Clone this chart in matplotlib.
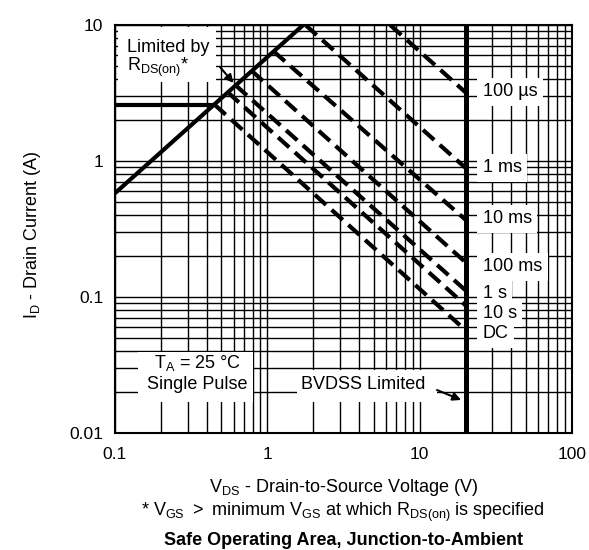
import matplotlib
matplotlib.use("Agg")
import matplotlib.pyplot as plt
from matplotlib.patches import Rectangle
from matplotlib.ticker import LogLocator, FixedLocator, FixedFormatter, NullFormatter

plt.rcParams['font.family'] = ['Liberation Sans', 'DejaVu Sans']
plt.rcParams['mathtext.default'] = 'regular'

# limit lines
rds_v = [0.1, 1.72]          # R_DS(on) limit
rds_i = [0.58, 10.0]
cur_v = [0.1, 0.45]          # package current limit
cur_i = [2.6, 2.6]
bvdss_v = 20.0               # BVDSS limit

# pulse curves: start point and current at BVDSS
pulse_labels = ["100 µs", "1 ms", "10 ms", "100 ms", "1 s", "10 s", "DC"]
pulse_v0 = [6.4, 1.78, 1.1, 0.79, 0.62, 0.55, 0.45]
pulse_i0 = [10.0, 10.0, 6.4, 4.6, 3.6, 3.2, 2.6]
pulse_i1 = [3.2, 0.89, 0.37, 0.18, 0.112, 0.087, 0.057]
label_y = [0.836, 0.650, 0.525, 0.407, 0.343, 0.294, 0.243]

x_ticks = [0.1, 1, 10, 100]
x_tick_labels = ["0.1", "1", "10", "100"]
y_ticks = [0.01, 0.1, 1, 10]
y_tick_labels = ["0.01", "0.1", "1", "10"]

fig = plt.figure(figsize=(5.89, 5.5), dpi=100)
ax = fig.add_axes([0.1952, 0.2127, 0.776, 0.7418])
ax.set_xscale("log")
ax.set_yscale("log")
ax.set_xlim(0.1, 100)
ax.set_ylim(0.01, 10)

ax.xaxis.set_major_locator(FixedLocator(x_ticks))
ax.xaxis.set_major_formatter(FixedFormatter(x_tick_labels))
ax.yaxis.set_major_locator(FixedLocator(y_ticks))
ax.yaxis.set_major_formatter(FixedFormatter(y_tick_labels))
ax.xaxis.set_minor_locator(LogLocator(base=10, subs=range(2, 10), numticks=20))
ax.yaxis.set_minor_locator(LogLocator(base=10, subs=range(2, 10), numticks=20))
ax.xaxis.set_minor_formatter(NullFormatter())
ax.yaxis.set_minor_formatter(NullFormatter())
ax.tick_params(which="both", length=0, labelsize=12.5)
ax.tick_params(axis="x", pad=10)
ax.tick_params(axis="y", pad=8.5)

ax.set_axisbelow(True)
ax.grid(True, which="both", color="black", lw=1.0)
for s in ax.spines.values():
    s.set_linewidth(1.5)

# white boxes behind the labels
for (x0, y0, w, h) in [(0.007, 0.86, 0.214, 0.135),
                       (0.050, 0.076, 0.252, 0.123),
                       (0.398, 0.076, 0.307, 0.078)]:
    ax.add_patch(Rectangle((x0, y0), w, h, transform=ax.transAxes,
                           facecolor="white", edgecolor="none", zorder=2))

# limits
ax.plot(rds_v, rds_i, color="black", lw=3, zorder=4, solid_capstyle="butt")
ax.plot(cur_v, cur_i, color="black", lw=3, zorder=4, solid_capstyle="butt")
ax.plot([bvdss_v, bvdss_v], [0.01, 10], color="black", lw=3.6, zorder=4)

for v0, i0, i1 in zip(pulse_v0, pulse_i0, pulse_i1):
    ax.plot([v0, bvdss_v], [i0, i1], color="black", lw=3, zorder=4,
            linestyle=(0, (3.6, 1.8)), dash_capstyle="butt")

for lab, y in zip(pulse_labels, label_y):
    ax.text(0.805, y, lab, transform=ax.transAxes, fontsize=13,
            ha="left", va="center", zorder=3,
            bbox=dict(facecolor="white", edgecolor="none",
                      boxstyle="square,pad=0.3"))

ax.text(0.026, 0.946, "Limited by", transform=ax.transAxes, fontsize=13,
        ha="left", va="center", zorder=3)
ax.text(0.026, 0.897, "R$_{DS(on)}$*", transform=ax.transAxes, fontsize=13,
        ha="left", va="center", zorder=3)
ax.annotate("", xy=(0.6, 3.75), xytext=(0.49, 4.9), zorder=5,
            arrowprops=dict(arrowstyle="-|>", color="black", lw=1.5,
                            mutation_scale=12, shrinkA=0, shrinkB=0))

ax.text(0.18, 0.172, "T$_A$ = 25 °C", transform=ax.transAxes, fontsize=13,
        ha="center", va="center", zorder=3)
ax.text(0.18, 0.118, "Single Pulse", transform=ax.transAxes, fontsize=13,
        ha="center", va="center", zorder=3)
ax.text(0.543, 0.118, "BVDSS Limited", transform=ax.transAxes, fontsize=13,
        ha="center", va="center", zorder=3)
ax.annotate("", xy=(18.7, 0.0175), xytext=(13.0, 0.0207), zorder=5,
            arrowprops=dict(arrowstyle="-|>", color="black", lw=1.5,
                            mutation_scale=12, shrinkA=0, shrinkB=0))

fig.text(0.056, 0.573, "I$_D$ - Drain Current (A)", rotation=90,
         fontsize=13, ha="center", va="center")
fig.text(0.583, 0.113, "V$_{DS}$ - Drain-to-Source Voltage (V)",
         fontsize=13, ha="center", va="center")
fig.text(0.583, 0.069,
         "* V$_{GS}$ $>$ minimum V$_{GS}$ at which R$_{DS(on)}$ is specified",
         fontsize=13, ha="center", va="center")
fig.text(0.583, 0.018, "Safe Operating Area, Junction-to-Ambient",
         fontsize=13, fontweight="bold", ha="center", va="center")

fig.savefig("out.png", dpi=100, facecolor="white")
